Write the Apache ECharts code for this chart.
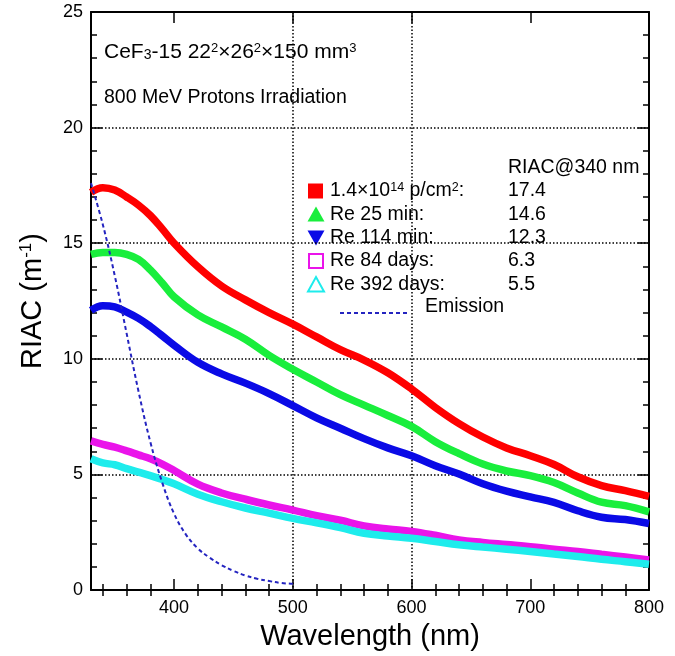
<!DOCTYPE html>
<html>
<head>
<meta charset="utf-8">
<script src="https://cdn.jsdelivr.net/npm/echarts@6/dist/echarts.min.js"></script>
<style>
html, body { margin: 0; padding: 0; background: #fff; }
#chart { width: 675px; height: 656px; }
</style>
</head>
<body>
<div id="chart"></div>
<script>
// Wavelength grid (nm) shared by the five RIAC curves
const wavelengths = [330, 340, 350, 360, 370, 380, 390, 400, 420, 440, 460, 480, 500, 520, 540,
  560, 580, 600, 620, 640, 660, 680, 700, 720, 740, 760, 780, 800];

// RIAC (m^-1) right after 1.4e14 p/cm2
const riacIrradiated = [17.2, 17.4, 17.3, 17.0, 16.65, 16.2, 15.62, 15.0, 13.98, 13.15, 12.55, 12.0, 11.5,
  10.95, 10.4, 9.95, 9.4, 8.7, 7.9, 7.2, 6.62, 6.15, 5.81, 5.43, 4.9, 4.52, 4.3, 4.05];
// Recovery 25 min
const riacRe25min = [14.52, 14.6, 14.6, 14.52, 14.3, 13.85, 13.28, 12.68, 11.9, 11.38, 10.85, 10.15, 9.55,
  9.0, 8.45, 8.0, 7.55, 7.08, 6.42, 5.9, 5.45, 5.15, 4.95, 4.65, 4.2, 3.8, 3.65, 3.38];
// Recovery 114 min
const riacRe114min = [12.1, 12.3, 12.25, 12.02, 11.75, 11.4, 11.0, 10.59, 9.85, 9.35, 8.95, 8.5, 7.98,
  7.45, 7.0, 6.55, 6.15, 5.81, 5.38, 5.02, 4.6, 4.28, 4.03, 3.79, 3.43, 3.15, 3.05, 2.88];
// Recovery 84 days
const riacRe84days = [6.45, 6.3, 6.18, 6.02, 5.85, 5.68, 5.45, 5.17, 4.58, 4.2, 3.93, 3.68, 3.46,
  3.22, 3.02, 2.78, 2.64, 2.54, 2.37, 2.17, 2.06, 1.97, 1.88, 1.77, 1.67, 1.55, 1.43, 1.3];
// Recovery 392 days
const riacRe392days = [5.68, 5.5, 5.42, 5.25, 5.1, 4.95, 4.78, 4.6, 4.15, 3.82, 3.55, 3.33, 3.1,
  2.91, 2.7, 2.46, 2.34, 2.24, 2.1, 1.96, 1.86, 1.77, 1.67, 1.56, 1.45, 1.33, 1.23, 1.12];

// CeF3 emission spectrum (arbitrary scale)
const emissionWavelengths = [330, 340, 350, 360, 370, 380, 390, 400, 410, 420, 430, 440, 450, 460, 470, 480, 490, 500];
const emissionValues = [17.6, 15.8, 13.6, 11.1, 8.6, 6.4, 4.65, 3.3, 2.4, 1.8, 1.4, 1.08, 0.83, 0.63, 0.49, 0.39, 0.31, 0.27];

// Axis ticks and labels
const xLabelValues = [400, 500, 600, 700, 800];
const xMajorTicks = [400, 500, 600, 700];
const xMinorTicks = [340, 360, 380, 420, 440, 460, 480, 520, 540, 560, 580, 620, 640, 660, 680, 720, 740, 760, 780];

// Legend rows
const legendLabels = ['1.4×10{sup|14} p/cm{sup|2}:', 'Re 25 min:', 'Re 114 min:', 'Re 84 days:', 'Re 392 days:'];
const legendValues = ['17.4', '14.6', '12.3', '6.3', '5.5'];
const legendHeader = 'RIAC@340 nm';

const COLORS = ['#ff0000', '#19ee3c', '#0a0ae6', '#ea14ea', '#1eecec'];
const EMISSION_COLOR = '#2424c0';
const FONT = '"Liberation Sans", Arial, sans-serif';

const pairs = (xs, ys) => xs.map((x, i) => [x, ys[i]]);
const curves = [riacIrradiated, riacRe25min, riacRe114min, riacRe84days, riacRe392days];

const frameLine = { show: true, onZero: false, lineStyle: { color: '#000', width: 2 } };
const tickStyle = { color: '#000', width: 1.5 };
const gridDots = { color: '#000', width: 1.5, type: [1.5, 2] };

function xTickAxis(position, values, length) {
  return {
    type: 'value', min: 330, max: 800, minInterval: 100, maxInterval: 100, position,
    axisLine: { show: false }, splitLine: { show: false }, axisLabel: { show: false },
    axisTick: { show: true, inside: true, length, customValues: values, lineStyle: tickStyle }
  };
}

const chart = echarts.init(document.getElementById('chart'), null, { renderer: 'canvas' });

const series = curves.map((vals, i) => ({
  type: 'line',
  data: pairs(wavelengths, vals),
  xAxisIndex: 0, yAxisIndex: 0,
  showSymbol: false, smooth: 0.4,
  lineStyle: { color: COLORS[i], width: 7.5 },
  z: 3 + i, silent: true
}));
series.push({
  type: 'line',
  data: pairs(emissionWavelengths, emissionValues),
  xAxisIndex: 0, yAxisIndex: 0,
  showSymbol: false, smooth: 0.4,
  lineStyle: { color: EMISSION_COLOR, width: 2, type: [4, 3] },
  z: 10, silent: true
});

// Annotation and legend block drawn as graphic elements
const rowY = [191, 214.5, 237.5, 261, 284.5];
const graphics = [];
graphics.push({
  type: 'text', x: 104, y: 52,
  style: { text: 'CeF{sub|3}-15 22{sup|2}×26{sup|2}×150 mm{sup|3}', font: '21px ' + FONT, fill: '#000',
    verticalAlign: 'middle',
    rich: { sup: { fontSize: 13, verticalAlign: 'top', fontFamily: FONT }, sub: { fontSize: 14, verticalAlign: 'bottom', fontFamily: FONT } } }
});
graphics.push({
  type: 'text', x: 104, y: 98,
  style: { text: '800 MeV Protons Irradiation', font: '19.5px ' + FONT, fill: '#000', verticalAlign: 'middle' }
});
graphics.push({
  type: 'text', x: 508, y: 168,
  style: { text: legendHeader, font: '19.5px ' + FONT, fill: '#000', verticalAlign: 'middle' }
});
legendLabels.forEach((t, i) => {
  graphics.push({
    type: 'text', x: 330, y: rowY[i],
    style: { text: t, font: '19.5px ' + FONT, fill: '#000', verticalAlign: 'middle',
      rich: { sup: { fontSize: 12.5, verticalAlign: 'top', fontFamily: FONT } } }
  });
  graphics.push({
    type: 'text', x: 508, y: rowY[i],
    style: { text: legendValues[i], font: '19.5px ' + FONT, fill: '#000', verticalAlign: 'middle' }
  });
});
// legend markers
graphics.push({ type: 'rect', shape: { x: 308, y: rowY[0] - 7.5, width: 15, height: 15 }, style: { fill: COLORS[0] } });
graphics.push({ type: 'polygon', shape: { points: [[307.5, rowY[1] + 7], [324.5, rowY[1] + 7], [316, rowY[1] - 8]] }, style: { fill: COLORS[1] } });
graphics.push({ type: 'polygon', shape: { points: [[307.5, rowY[2] - 7], [324.5, rowY[2] - 7], [316, rowY[2] + 8]] }, style: { fill: COLORS[2] } });
graphics.push({ type: 'rect', shape: { x: 309, y: rowY[3] - 7, width: 14, height: 14 }, style: { fill: 'none', stroke: COLORS[3], lineWidth: 2 } });
graphics.push({ type: 'polygon', shape: { points: [[308, rowY[4] + 7], [324, rowY[4] + 7], [316, rowY[4] - 7.5]] }, style: { fill: 'none', stroke: COLORS[4], lineWidth: 2 } });
graphics.push({ type: 'line', shape: { x1: 340, y1: 313, x2: 408, y2: 313 }, style: { stroke: EMISSION_COLOR, lineWidth: 2, lineDash: [4, 3] } });
graphics.push({
  type: 'text', x: 425, y: 307,
  style: { text: 'Emission', font: '19.5px ' + FONT, fill: '#000', verticalAlign: 'middle' }
});

chart.setOption({
  animation: false,
  backgroundColor: '#fff',
  grid: { left: 91, right: 26, top: 12, bottom: 62, containLabel: false },
  xAxis: [
    {
      type: 'value', min: 330, max: 800, minInterval: 100, maxInterval: 100, position: 'bottom',
      name: 'Wavelength (nm)', nameLocation: 'middle', nameGap: 27,
      nameTextStyle: { fontSize: 29, fontFamily: FONT, color: '#000' },
      axisLine: frameLine,
      axisTick: { show: true, inside: true, length: 11, customValues: xMajorTicks, lineStyle: tickStyle },
      axisLabel: { customValues: xLabelValues, fontSize: 18, fontFamily: FONT, color: '#000', margin: 9 },
      splitLine: { show: true, showMinLine: false, showMaxLine: false, lineStyle: gridDots }
    },
    xTickAxis('bottom', xMinorTicks, 6),
    Object.assign(xTickAxis('top', xMajorTicks, 11), { axisLine: frameLine }),
    xTickAxis('top', xMinorTicks, 6)
  ],
  yAxis: [
    {
      type: 'value', min: 0, max: 25, interval: 5, position: 'left',
      name: 'RIAC (m{sup|-1})', nameLocation: 'middle', nameGap: 44, nameRotate: 90,
      nameTextStyle: { fontSize: 29, fontFamily: FONT, color: '#000',
        rich: { sup: { fontSize: 17, verticalAlign: 'top', fontFamily: FONT, color: '#000' } } },
      axisLine: frameLine,
      axisTick: { show: true, inside: true, length: 11, lineStyle: tickStyle },
      minorTick: { show: true, splitNumber: 5, length: 6, lineStyle: tickStyle },
      axisLabel: { fontSize: 18, fontFamily: FONT, color: '#000', margin: 8 },
      splitLine: { show: true, showMinLine: false, showMaxLine: false, lineStyle: gridDots }
    },
    {
      type: 'value', min: 0, max: 25, interval: 5, position: 'right',
      axisLine: frameLine,
      axisTick: { show: true, inside: true, length: 11, lineStyle: tickStyle },
      minorTick: { show: true, splitNumber: 5, length: 6, lineStyle: tickStyle },
      axisLabel: { show: false },
      splitLine: { show: false }
    }
  ],
  series,
  graphic: graphics
});
</script>
</body>
</html>
